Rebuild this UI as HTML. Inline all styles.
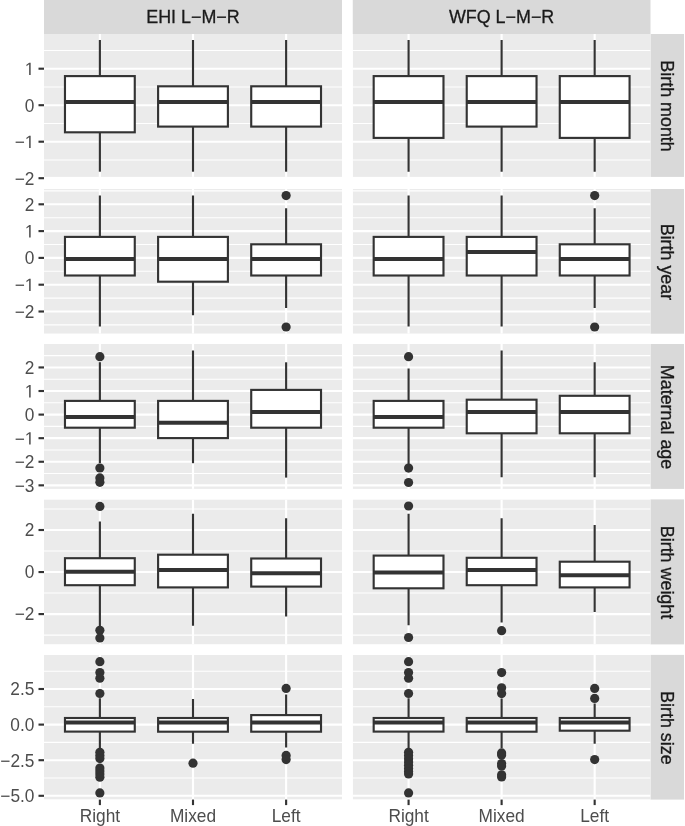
<!DOCTYPE html><html><head><meta charset="utf-8"><style>html,body{margin:0;padding:0;background:#fff;}body{width:685px;height:826px;overflow:hidden;}svg{display:block;font-family:"Liberation Sans",sans-serif;will-change:transform;}</style></head><body>
<svg width="685" height="826" viewBox="0 0 685 826">
<rect x="0" y="0" width="685" height="826" fill="#fff"/>
<rect x="44" y="0" width="298" height="34" fill="#D9D9D9"/>
<text x="193" y="23.1" font-size="17.9" fill="#1A1A1A" text-anchor="middle" stroke="#1A1A1A" stroke-width="0.3">EHI L−M−R</text>
<rect x="352.75" y="0" width="297.75" height="34" fill="#D9D9D9"/>
<text x="501.62" y="23.1" font-size="17.9" fill="#1A1A1A" text-anchor="middle" stroke="#1A1A1A" stroke-width="0.3">WFQ L−M−R</text>
<rect x="650.5" y="34" width="33.5" height="142.9" fill="#D9D9D9"/>
<text transform="translate(661.1 106.05) rotate(90)" font-size="17.9" fill="#1A1A1A" text-anchor="middle" stroke="#1A1A1A" stroke-width="0.3">Birth month</text>
<clipPath id="c00"><rect x="44" y="34" width="298" height="142.9"/></clipPath>
<g clip-path="url(#c00)">
<rect x="44" y="34" width="298" height="142.9" fill="#EBEBEB"/>
<line x1="44" x2="342" y1="50.45" y2="50.45" stroke="#fff" stroke-width="1.07"/>
<line x1="44" x2="342" y1="86.95" y2="86.95" stroke="#fff" stroke-width="1.07"/>
<line x1="44" x2="342" y1="123.45" y2="123.45" stroke="#fff" stroke-width="1.07"/>
<line x1="44" x2="342" y1="159.95" y2="159.95" stroke="#fff" stroke-width="1.07"/>
<line x1="44" x2="342" y1="68.7" y2="68.7" stroke="#fff" stroke-width="2.13"/>
<line x1="44" x2="342" y1="105.2" y2="105.2" stroke="#fff" stroke-width="2.13"/>
<line x1="44" x2="342" y1="141.7" y2="141.7" stroke="#fff" stroke-width="2.13"/>
<line x1="44" x2="342" y1="178.2" y2="178.2" stroke="#fff" stroke-width="2.13"/>
<line x1="99.88" x2="99.88" y1="34" y2="176.9" stroke="#fff" stroke-width="2.13"/>
<line x1="193" x2="193" y1="34" y2="176.9" stroke="#fff" stroke-width="2.13"/>
<line x1="286.12" x2="286.12" y1="34" y2="176.9" stroke="#fff" stroke-width="2.13"/>
<line x1="99.88" x2="99.88" y1="40" y2="76.1" stroke="#333333" stroke-width="2.13"/>
<line x1="99.88" x2="99.88" y1="132.3" y2="171.7" stroke="#333333" stroke-width="2.13"/>
<rect x="64.97" y="76.1" width="69.8" height="56.2" fill="#fff" stroke="#333333" stroke-width="2.13"/>
<line x1="64.97" x2="134.78" y1="101.9" y2="101.9" stroke="#333333" stroke-width="4"/>
<line x1="193" x2="193" y1="40" y2="86.3" stroke="#333333" stroke-width="2.13"/>
<line x1="193" x2="193" y1="126.6" y2="171.7" stroke="#333333" stroke-width="2.13"/>
<rect x="158.1" y="86.3" width="69.8" height="40.3" fill="#fff" stroke="#333333" stroke-width="2.13"/>
<line x1="158.1" x2="227.9" y1="101.9" y2="101.9" stroke="#333333" stroke-width="4"/>
<line x1="286.12" x2="286.12" y1="40" y2="86.3" stroke="#333333" stroke-width="2.13"/>
<line x1="286.12" x2="286.12" y1="126.6" y2="171.7" stroke="#333333" stroke-width="2.13"/>
<rect x="251.22" y="86.3" width="69.8" height="40.3" fill="#fff" stroke="#333333" stroke-width="2.13"/>
<line x1="251.22" x2="321.02" y1="101.9" y2="101.9" stroke="#333333" stroke-width="4"/>
</g>
<clipPath id="c01"><rect x="352.75" y="34" width="297.75" height="142.9"/></clipPath>
<g clip-path="url(#c01)">
<rect x="352.75" y="34" width="297.75" height="142.9" fill="#EBEBEB"/>
<line x1="352.75" x2="650.5" y1="50.45" y2="50.45" stroke="#fff" stroke-width="1.07"/>
<line x1="352.75" x2="650.5" y1="86.95" y2="86.95" stroke="#fff" stroke-width="1.07"/>
<line x1="352.75" x2="650.5" y1="123.45" y2="123.45" stroke="#fff" stroke-width="1.07"/>
<line x1="352.75" x2="650.5" y1="159.95" y2="159.95" stroke="#fff" stroke-width="1.07"/>
<line x1="352.75" x2="650.5" y1="68.7" y2="68.7" stroke="#fff" stroke-width="2.13"/>
<line x1="352.75" x2="650.5" y1="105.2" y2="105.2" stroke="#fff" stroke-width="2.13"/>
<line x1="352.75" x2="650.5" y1="141.7" y2="141.7" stroke="#fff" stroke-width="2.13"/>
<line x1="352.75" x2="650.5" y1="178.2" y2="178.2" stroke="#fff" stroke-width="2.13"/>
<line x1="408.58" x2="408.58" y1="34" y2="176.9" stroke="#fff" stroke-width="2.13"/>
<line x1="501.62" x2="501.62" y1="34" y2="176.9" stroke="#fff" stroke-width="2.13"/>
<line x1="594.67" x2="594.67" y1="34" y2="176.9" stroke="#fff" stroke-width="2.13"/>
<line x1="408.58" x2="408.58" y1="40" y2="76.1" stroke="#333333" stroke-width="2.13"/>
<line x1="408.58" x2="408.58" y1="137.9" y2="171.7" stroke="#333333" stroke-width="2.13"/>
<rect x="373.68" y="76.1" width="69.8" height="61.8" fill="#fff" stroke="#333333" stroke-width="2.13"/>
<line x1="373.68" x2="443.48" y1="101.9" y2="101.9" stroke="#333333" stroke-width="4"/>
<line x1="501.62" x2="501.62" y1="40" y2="76.1" stroke="#333333" stroke-width="2.13"/>
<line x1="501.62" x2="501.62" y1="126.6" y2="171.7" stroke="#333333" stroke-width="2.13"/>
<rect x="466.73" y="76.1" width="69.8" height="50.5" fill="#fff" stroke="#333333" stroke-width="2.13"/>
<line x1="466.73" x2="536.52" y1="101.9" y2="101.9" stroke="#333333" stroke-width="4"/>
<line x1="594.67" x2="594.67" y1="40" y2="76.1" stroke="#333333" stroke-width="2.13"/>
<line x1="594.67" x2="594.67" y1="137.9" y2="171.7" stroke="#333333" stroke-width="2.13"/>
<rect x="559.77" y="76.1" width="69.8" height="61.8" fill="#fff" stroke="#333333" stroke-width="2.13"/>
<line x1="559.77" x2="629.57" y1="101.9" y2="101.9" stroke="#333333" stroke-width="4"/>
</g>
<line x1="38.5" x2="44" y1="68.7" y2="68.7" stroke="#333333" stroke-width="2.13"/>
<path transform="translate(24.78 75.1) scale(0.00845 -0.00879)" fill="#4D4D4D" d="M515 0L515 1237L197 1010L197 1180L530 1409L696 1409L696 0Z"/>
<line x1="38.5" x2="44" y1="105.2" y2="105.2" stroke="#333333" stroke-width="2.13"/>
<text transform="translate(34.4 111.6) scale(1 1.04)" font-size="17.3" fill="#4D4D4D" text-anchor="end">0</text>
<line x1="38.5" x2="44" y1="141.7" y2="141.7" stroke="#333333" stroke-width="2.13"/>
<path transform="translate(24.78 148.1) scale(0.00845 -0.00879)" fill="#4D4D4D" d="M515 0L515 1237L197 1010L197 1180L530 1409L696 1409L696 0Z"/>
<text transform="translate(24.78 148.1) scale(1 1.04)" font-size="17.3" fill="#4D4D4D" text-anchor="end">−</text>
<line x1="38.5" x2="44" y1="178.2" y2="178.2" stroke="#333333" stroke-width="2.13"/>
<text transform="translate(34.4 184.6) scale(1 1.04)" font-size="17.3" fill="#4D4D4D" text-anchor="end">−2</text>
<rect x="650.5" y="189" width="33.5" height="144.7" fill="#D9D9D9"/>
<text transform="translate(661.1 261.95) rotate(90)" font-size="17.9" fill="#1A1A1A" text-anchor="middle" stroke="#1A1A1A" stroke-width="0.3">Birth year</text>
<clipPath id="c10"><rect x="44" y="189" width="298" height="144.7"/></clipPath>
<g clip-path="url(#c10)">
<rect x="44" y="189" width="298" height="144.7" fill="#EBEBEB"/>
<line x1="44" x2="342" y1="190.9" y2="190.9" stroke="#fff" stroke-width="1.07"/>
<line x1="44" x2="342" y1="217.7" y2="217.7" stroke="#fff" stroke-width="1.07"/>
<line x1="44" x2="342" y1="244.5" y2="244.5" stroke="#fff" stroke-width="1.07"/>
<line x1="44" x2="342" y1="271.3" y2="271.3" stroke="#fff" stroke-width="1.07"/>
<line x1="44" x2="342" y1="298.1" y2="298.1" stroke="#fff" stroke-width="1.07"/>
<line x1="44" x2="342" y1="324.9" y2="324.9" stroke="#fff" stroke-width="1.07"/>
<line x1="44" x2="342" y1="204.3" y2="204.3" stroke="#fff" stroke-width="2.13"/>
<line x1="44" x2="342" y1="231.1" y2="231.1" stroke="#fff" stroke-width="2.13"/>
<line x1="44" x2="342" y1="257.9" y2="257.9" stroke="#fff" stroke-width="2.13"/>
<line x1="44" x2="342" y1="284.7" y2="284.7" stroke="#fff" stroke-width="2.13"/>
<line x1="44" x2="342" y1="311.5" y2="311.5" stroke="#fff" stroke-width="2.13"/>
<line x1="99.88" x2="99.88" y1="189" y2="333.7" stroke="#fff" stroke-width="2.13"/>
<line x1="193" x2="193" y1="189" y2="333.7" stroke="#fff" stroke-width="2.13"/>
<line x1="286.12" x2="286.12" y1="189" y2="333.7" stroke="#fff" stroke-width="2.13"/>
<line x1="99.88" x2="99.88" y1="195.5" y2="236.9" stroke="#333333" stroke-width="2.13"/>
<line x1="99.88" x2="99.88" y1="275.5" y2="326.6" stroke="#333333" stroke-width="2.13"/>
<rect x="64.97" y="236.9" width="69.8" height="38.6" fill="#fff" stroke="#333333" stroke-width="2.13"/>
<line x1="64.97" x2="134.78" y1="259" y2="259" stroke="#333333" stroke-width="4"/>
<line x1="193" x2="193" y1="195.5" y2="236.9" stroke="#333333" stroke-width="2.13"/>
<line x1="193" x2="193" y1="281.7" y2="315.3" stroke="#333333" stroke-width="2.13"/>
<rect x="158.1" y="236.9" width="69.8" height="44.8" fill="#fff" stroke="#333333" stroke-width="2.13"/>
<line x1="158.1" x2="227.9" y1="259" y2="259" stroke="#333333" stroke-width="4"/>
<line x1="286.12" x2="286.12" y1="208.2" y2="244.3" stroke="#333333" stroke-width="2.13"/>
<line x1="286.12" x2="286.12" y1="275.5" y2="308" stroke="#333333" stroke-width="2.13"/>
<rect x="251.22" y="244.3" width="69.8" height="31.2" fill="#fff" stroke="#333333" stroke-width="2.13"/>
<line x1="251.22" x2="321.02" y1="259" y2="259" stroke="#333333" stroke-width="4"/>
<circle cx="286.12" cy="195.6" r="4.6" fill="#333333"/>
<circle cx="286.12" cy="327" r="4.6" fill="#333333"/>
</g>
<clipPath id="c11"><rect x="352.75" y="189" width="297.75" height="144.7"/></clipPath>
<g clip-path="url(#c11)">
<rect x="352.75" y="189" width="297.75" height="144.7" fill="#EBEBEB"/>
<line x1="352.75" x2="650.5" y1="190.9" y2="190.9" stroke="#fff" stroke-width="1.07"/>
<line x1="352.75" x2="650.5" y1="217.7" y2="217.7" stroke="#fff" stroke-width="1.07"/>
<line x1="352.75" x2="650.5" y1="244.5" y2="244.5" stroke="#fff" stroke-width="1.07"/>
<line x1="352.75" x2="650.5" y1="271.3" y2="271.3" stroke="#fff" stroke-width="1.07"/>
<line x1="352.75" x2="650.5" y1="298.1" y2="298.1" stroke="#fff" stroke-width="1.07"/>
<line x1="352.75" x2="650.5" y1="324.9" y2="324.9" stroke="#fff" stroke-width="1.07"/>
<line x1="352.75" x2="650.5" y1="204.3" y2="204.3" stroke="#fff" stroke-width="2.13"/>
<line x1="352.75" x2="650.5" y1="231.1" y2="231.1" stroke="#fff" stroke-width="2.13"/>
<line x1="352.75" x2="650.5" y1="257.9" y2="257.9" stroke="#fff" stroke-width="2.13"/>
<line x1="352.75" x2="650.5" y1="284.7" y2="284.7" stroke="#fff" stroke-width="2.13"/>
<line x1="352.75" x2="650.5" y1="311.5" y2="311.5" stroke="#fff" stroke-width="2.13"/>
<line x1="408.58" x2="408.58" y1="189" y2="333.7" stroke="#fff" stroke-width="2.13"/>
<line x1="501.62" x2="501.62" y1="189" y2="333.7" stroke="#fff" stroke-width="2.13"/>
<line x1="594.67" x2="594.67" y1="189" y2="333.7" stroke="#fff" stroke-width="2.13"/>
<line x1="408.58" x2="408.58" y1="195.5" y2="236.9" stroke="#333333" stroke-width="2.13"/>
<line x1="408.58" x2="408.58" y1="275.5" y2="326.6" stroke="#333333" stroke-width="2.13"/>
<rect x="373.68" y="236.9" width="69.8" height="38.6" fill="#fff" stroke="#333333" stroke-width="2.13"/>
<line x1="373.68" x2="443.48" y1="259" y2="259" stroke="#333333" stroke-width="4"/>
<line x1="501.62" x2="501.62" y1="195.5" y2="236.9" stroke="#333333" stroke-width="2.13"/>
<line x1="501.62" x2="501.62" y1="275.5" y2="326.6" stroke="#333333" stroke-width="2.13"/>
<rect x="466.73" y="236.9" width="69.8" height="38.6" fill="#fff" stroke="#333333" stroke-width="2.13"/>
<line x1="466.73" x2="536.52" y1="252.1" y2="252.1" stroke="#333333" stroke-width="4"/>
<line x1="594.67" x2="594.67" y1="208.2" y2="244.3" stroke="#333333" stroke-width="2.13"/>
<line x1="594.67" x2="594.67" y1="275.5" y2="308" stroke="#333333" stroke-width="2.13"/>
<rect x="559.77" y="244.3" width="69.8" height="31.2" fill="#fff" stroke="#333333" stroke-width="2.13"/>
<line x1="559.77" x2="629.57" y1="259" y2="259" stroke="#333333" stroke-width="4"/>
<circle cx="594.67" cy="195.6" r="4.6" fill="#333333"/>
<circle cx="594.67" cy="327" r="4.6" fill="#333333"/>
</g>
<line x1="38.5" x2="44" y1="204.3" y2="204.3" stroke="#333333" stroke-width="2.13"/>
<text transform="translate(34.4 210.7) scale(1 1.04)" font-size="17.3" fill="#4D4D4D" text-anchor="end">2</text>
<line x1="38.5" x2="44" y1="231.1" y2="231.1" stroke="#333333" stroke-width="2.13"/>
<path transform="translate(24.78 237.5) scale(0.00845 -0.00879)" fill="#4D4D4D" d="M515 0L515 1237L197 1010L197 1180L530 1409L696 1409L696 0Z"/>
<line x1="38.5" x2="44" y1="257.9" y2="257.9" stroke="#333333" stroke-width="2.13"/>
<text transform="translate(34.4 264.3) scale(1 1.04)" font-size="17.3" fill="#4D4D4D" text-anchor="end">0</text>
<line x1="38.5" x2="44" y1="284.7" y2="284.7" stroke="#333333" stroke-width="2.13"/>
<path transform="translate(24.78 291.1) scale(0.00845 -0.00879)" fill="#4D4D4D" d="M515 0L515 1237L197 1010L197 1180L530 1409L696 1409L696 0Z"/>
<text transform="translate(24.78 291.1) scale(1 1.04)" font-size="17.3" fill="#4D4D4D" text-anchor="end">−</text>
<line x1="38.5" x2="44" y1="311.5" y2="311.5" stroke="#333333" stroke-width="2.13"/>
<text transform="translate(34.4 317.9) scale(1 1.04)" font-size="17.3" fill="#4D4D4D" text-anchor="end">−2</text>
<rect x="650.5" y="344" width="33.5" height="144.9" fill="#D9D9D9"/>
<text transform="translate(661.1 417.05) rotate(90)" font-size="17.9" fill="#1A1A1A" text-anchor="middle" stroke="#1A1A1A" stroke-width="0.3">Maternal age</text>
<clipPath id="c20"><rect x="44" y="344" width="298" height="144.9"/></clipPath>
<g clip-path="url(#c20)">
<rect x="44" y="344" width="298" height="144.9" fill="#EBEBEB"/>
<line x1="44" x2="342" y1="355.65" y2="355.65" stroke="#fff" stroke-width="1.07"/>
<line x1="44" x2="342" y1="379.23" y2="379.23" stroke="#fff" stroke-width="1.07"/>
<line x1="44" x2="342" y1="402.81" y2="402.81" stroke="#fff" stroke-width="1.07"/>
<line x1="44" x2="342" y1="426.39" y2="426.39" stroke="#fff" stroke-width="1.07"/>
<line x1="44" x2="342" y1="449.97" y2="449.97" stroke="#fff" stroke-width="1.07"/>
<line x1="44" x2="342" y1="473.55" y2="473.55" stroke="#fff" stroke-width="1.07"/>
<line x1="44" x2="342" y1="367.44" y2="367.44" stroke="#fff" stroke-width="2.13"/>
<line x1="44" x2="342" y1="391.02" y2="391.02" stroke="#fff" stroke-width="2.13"/>
<line x1="44" x2="342" y1="414.6" y2="414.6" stroke="#fff" stroke-width="2.13"/>
<line x1="44" x2="342" y1="438.18" y2="438.18" stroke="#fff" stroke-width="2.13"/>
<line x1="44" x2="342" y1="461.76" y2="461.76" stroke="#fff" stroke-width="2.13"/>
<line x1="44" x2="342" y1="485.34" y2="485.34" stroke="#fff" stroke-width="2.13"/>
<line x1="99.88" x2="99.88" y1="344" y2="488.9" stroke="#fff" stroke-width="2.13"/>
<line x1="193" x2="193" y1="344" y2="488.9" stroke="#fff" stroke-width="2.13"/>
<line x1="286.12" x2="286.12" y1="344" y2="488.9" stroke="#fff" stroke-width="2.13"/>
<line x1="99.88" x2="99.88" y1="362.2" y2="400.9" stroke="#333333" stroke-width="2.13"/>
<line x1="99.88" x2="99.88" y1="427.7" y2="463.2" stroke="#333333" stroke-width="2.13"/>
<rect x="64.97" y="400.9" width="69.8" height="26.8" fill="#fff" stroke="#333333" stroke-width="2.13"/>
<line x1="64.97" x2="134.78" y1="417" y2="417" stroke="#333333" stroke-width="4"/>
<circle cx="99.88" cy="356.7" r="4.6" fill="#333333"/>
<circle cx="99.88" cy="468" r="4.6" fill="#333333"/>
<circle cx="99.88" cy="477.9" r="4.6" fill="#333333"/>
<circle cx="99.88" cy="482.3" r="4.6" fill="#333333"/>
<line x1="193" x2="193" y1="350.5" y2="400.9" stroke="#333333" stroke-width="2.13"/>
<line x1="193" x2="193" y1="438.1" y2="463.2" stroke="#333333" stroke-width="2.13"/>
<rect x="158.1" y="400.9" width="69.8" height="37.2" fill="#fff" stroke="#333333" stroke-width="2.13"/>
<line x1="158.1" x2="227.9" y1="422.8" y2="422.8" stroke="#333333" stroke-width="4"/>
<line x1="286.12" x2="286.12" y1="362.3" y2="389.9" stroke="#333333" stroke-width="2.13"/>
<line x1="286.12" x2="286.12" y1="427.7" y2="477.6" stroke="#333333" stroke-width="2.13"/>
<rect x="251.22" y="389.9" width="69.8" height="37.8" fill="#fff" stroke="#333333" stroke-width="2.13"/>
<line x1="251.22" x2="321.02" y1="411.9" y2="411.9" stroke="#333333" stroke-width="4"/>
</g>
<clipPath id="c21"><rect x="352.75" y="344" width="297.75" height="144.9"/></clipPath>
<g clip-path="url(#c21)">
<rect x="352.75" y="344" width="297.75" height="144.9" fill="#EBEBEB"/>
<line x1="352.75" x2="650.5" y1="355.65" y2="355.65" stroke="#fff" stroke-width="1.07"/>
<line x1="352.75" x2="650.5" y1="379.23" y2="379.23" stroke="#fff" stroke-width="1.07"/>
<line x1="352.75" x2="650.5" y1="402.81" y2="402.81" stroke="#fff" stroke-width="1.07"/>
<line x1="352.75" x2="650.5" y1="426.39" y2="426.39" stroke="#fff" stroke-width="1.07"/>
<line x1="352.75" x2="650.5" y1="449.97" y2="449.97" stroke="#fff" stroke-width="1.07"/>
<line x1="352.75" x2="650.5" y1="473.55" y2="473.55" stroke="#fff" stroke-width="1.07"/>
<line x1="352.75" x2="650.5" y1="367.44" y2="367.44" stroke="#fff" stroke-width="2.13"/>
<line x1="352.75" x2="650.5" y1="391.02" y2="391.02" stroke="#fff" stroke-width="2.13"/>
<line x1="352.75" x2="650.5" y1="414.6" y2="414.6" stroke="#fff" stroke-width="2.13"/>
<line x1="352.75" x2="650.5" y1="438.18" y2="438.18" stroke="#fff" stroke-width="2.13"/>
<line x1="352.75" x2="650.5" y1="461.76" y2="461.76" stroke="#fff" stroke-width="2.13"/>
<line x1="352.75" x2="650.5" y1="485.34" y2="485.34" stroke="#fff" stroke-width="2.13"/>
<line x1="408.58" x2="408.58" y1="344" y2="488.9" stroke="#fff" stroke-width="2.13"/>
<line x1="501.62" x2="501.62" y1="344" y2="488.9" stroke="#fff" stroke-width="2.13"/>
<line x1="594.67" x2="594.67" y1="344" y2="488.9" stroke="#fff" stroke-width="2.13"/>
<line x1="408.58" x2="408.58" y1="368.4" y2="400.9" stroke="#333333" stroke-width="2.13"/>
<line x1="408.58" x2="408.58" y1="427.7" y2="464.2" stroke="#333333" stroke-width="2.13"/>
<rect x="373.68" y="400.9" width="69.8" height="26.8" fill="#fff" stroke="#333333" stroke-width="2.13"/>
<line x1="373.68" x2="443.48" y1="417" y2="417" stroke="#333333" stroke-width="4"/>
<circle cx="408.58" cy="356.7" r="4.6" fill="#333333"/>
<circle cx="408.58" cy="468.1" r="4.6" fill="#333333"/>
<circle cx="408.58" cy="482.5" r="4.6" fill="#333333"/>
<line x1="501.62" x2="501.62" y1="350.5" y2="399.7" stroke="#333333" stroke-width="2.13"/>
<line x1="501.62" x2="501.62" y1="433.3" y2="477.2" stroke="#333333" stroke-width="2.13"/>
<rect x="466.73" y="399.7" width="69.8" height="33.6" fill="#fff" stroke="#333333" stroke-width="2.13"/>
<line x1="466.73" x2="536.52" y1="411.9" y2="411.9" stroke="#333333" stroke-width="4"/>
<line x1="594.67" x2="594.67" y1="362.3" y2="395.8" stroke="#333333" stroke-width="2.13"/>
<line x1="594.67" x2="594.67" y1="433.3" y2="477.2" stroke="#333333" stroke-width="2.13"/>
<rect x="559.77" y="395.8" width="69.8" height="37.5" fill="#fff" stroke="#333333" stroke-width="2.13"/>
<line x1="559.77" x2="629.57" y1="411.9" y2="411.9" stroke="#333333" stroke-width="4"/>
</g>
<line x1="38.5" x2="44" y1="367.44" y2="367.44" stroke="#333333" stroke-width="2.13"/>
<text transform="translate(34.4 373.84) scale(1 1.04)" font-size="17.3" fill="#4D4D4D" text-anchor="end">2</text>
<line x1="38.5" x2="44" y1="391.02" y2="391.02" stroke="#333333" stroke-width="2.13"/>
<path transform="translate(24.78 397.42) scale(0.00845 -0.00879)" fill="#4D4D4D" d="M515 0L515 1237L197 1010L197 1180L530 1409L696 1409L696 0Z"/>
<line x1="38.5" x2="44" y1="414.6" y2="414.6" stroke="#333333" stroke-width="2.13"/>
<text transform="translate(34.4 421) scale(1 1.04)" font-size="17.3" fill="#4D4D4D" text-anchor="end">0</text>
<line x1="38.5" x2="44" y1="438.18" y2="438.18" stroke="#333333" stroke-width="2.13"/>
<path transform="translate(24.78 444.58) scale(0.00845 -0.00879)" fill="#4D4D4D" d="M515 0L515 1237L197 1010L197 1180L530 1409L696 1409L696 0Z"/>
<text transform="translate(24.78 444.58) scale(1 1.04)" font-size="17.3" fill="#4D4D4D" text-anchor="end">−</text>
<line x1="38.5" x2="44" y1="461.76" y2="461.76" stroke="#333333" stroke-width="2.13"/>
<text transform="translate(34.4 468.16) scale(1 1.04)" font-size="17.3" fill="#4D4D4D" text-anchor="end">−2</text>
<line x1="38.5" x2="44" y1="485.34" y2="485.34" stroke="#333333" stroke-width="2.13"/>
<text transform="translate(34.4 491.74) scale(1 1.04)" font-size="17.3" fill="#4D4D4D" text-anchor="end">−3</text>
<rect x="650.5" y="499.4" width="33.5" height="145" fill="#D9D9D9"/>
<text transform="translate(661.1 572.5) rotate(90)" font-size="17.9" fill="#1A1A1A" text-anchor="middle" stroke="#1A1A1A" stroke-width="0.3">Birth weight</text>
<clipPath id="c30"><rect x="44" y="499.4" width="298" height="145"/></clipPath>
<g clip-path="url(#c30)">
<rect x="44" y="499.4" width="298" height="145" fill="#EBEBEB"/>
<line x1="44" x2="342" y1="508.99" y2="508.99" stroke="#fff" stroke-width="1.07"/>
<line x1="44" x2="342" y1="551.03" y2="551.03" stroke="#fff" stroke-width="1.07"/>
<line x1="44" x2="342" y1="593.07" y2="593.07" stroke="#fff" stroke-width="1.07"/>
<line x1="44" x2="342" y1="635.11" y2="635.11" stroke="#fff" stroke-width="1.07"/>
<line x1="44" x2="342" y1="530.01" y2="530.01" stroke="#fff" stroke-width="2.13"/>
<line x1="44" x2="342" y1="572.05" y2="572.05" stroke="#fff" stroke-width="2.13"/>
<line x1="44" x2="342" y1="614.09" y2="614.09" stroke="#fff" stroke-width="2.13"/>
<line x1="99.88" x2="99.88" y1="499.4" y2="644.4" stroke="#fff" stroke-width="2.13"/>
<line x1="193" x2="193" y1="499.4" y2="644.4" stroke="#fff" stroke-width="2.13"/>
<line x1="286.12" x2="286.12" y1="499.4" y2="644.4" stroke="#fff" stroke-width="2.13"/>
<line x1="99.88" x2="99.88" y1="521.6" y2="558.2" stroke="#333333" stroke-width="2.13"/>
<line x1="99.88" x2="99.88" y1="585.2" y2="627" stroke="#333333" stroke-width="2.13"/>
<rect x="64.97" y="558.2" width="69.8" height="27" fill="#fff" stroke="#333333" stroke-width="2.13"/>
<line x1="64.97" x2="134.78" y1="571.7" y2="571.7" stroke="#333333" stroke-width="4"/>
<circle cx="99.88" cy="506.4" r="4.6" fill="#333333"/>
<circle cx="99.88" cy="630.3" r="4.6" fill="#333333"/>
<circle cx="99.88" cy="637.9" r="4.6" fill="#333333"/>
<line x1="193" x2="193" y1="513.8" y2="554.7" stroke="#333333" stroke-width="2.13"/>
<line x1="193" x2="193" y1="587.4" y2="625.8" stroke="#333333" stroke-width="2.13"/>
<rect x="158.1" y="554.7" width="69.8" height="32.7" fill="#fff" stroke="#333333" stroke-width="2.13"/>
<line x1="158.1" x2="227.9" y1="569.9" y2="569.9" stroke="#333333" stroke-width="4"/>
<line x1="286.12" x2="286.12" y1="518.2" y2="558.5" stroke="#333333" stroke-width="2.13"/>
<line x1="286.12" x2="286.12" y1="586.6" y2="616.6" stroke="#333333" stroke-width="2.13"/>
<rect x="251.22" y="558.5" width="69.8" height="28.1" fill="#fff" stroke="#333333" stroke-width="2.13"/>
<line x1="251.22" x2="321.02" y1="573.2" y2="573.2" stroke="#333333" stroke-width="4"/>
</g>
<clipPath id="c31"><rect x="352.75" y="499.4" width="297.75" height="145"/></clipPath>
<g clip-path="url(#c31)">
<rect x="352.75" y="499.4" width="297.75" height="145" fill="#EBEBEB"/>
<line x1="352.75" x2="650.5" y1="508.99" y2="508.99" stroke="#fff" stroke-width="1.07"/>
<line x1="352.75" x2="650.5" y1="551.03" y2="551.03" stroke="#fff" stroke-width="1.07"/>
<line x1="352.75" x2="650.5" y1="593.07" y2="593.07" stroke="#fff" stroke-width="1.07"/>
<line x1="352.75" x2="650.5" y1="635.11" y2="635.11" stroke="#fff" stroke-width="1.07"/>
<line x1="352.75" x2="650.5" y1="530.01" y2="530.01" stroke="#fff" stroke-width="2.13"/>
<line x1="352.75" x2="650.5" y1="572.05" y2="572.05" stroke="#fff" stroke-width="2.13"/>
<line x1="352.75" x2="650.5" y1="614.09" y2="614.09" stroke="#fff" stroke-width="2.13"/>
<line x1="408.58" x2="408.58" y1="499.4" y2="644.4" stroke="#fff" stroke-width="2.13"/>
<line x1="501.62" x2="501.62" y1="499.4" y2="644.4" stroke="#fff" stroke-width="2.13"/>
<line x1="594.67" x2="594.67" y1="499.4" y2="644.4" stroke="#fff" stroke-width="2.13"/>
<line x1="408.58" x2="408.58" y1="513.8" y2="555.6" stroke="#333333" stroke-width="2.13"/>
<line x1="408.58" x2="408.58" y1="588.3" y2="625.3" stroke="#333333" stroke-width="2.13"/>
<rect x="373.68" y="555.6" width="69.8" height="32.7" fill="#fff" stroke="#333333" stroke-width="2.13"/>
<line x1="373.68" x2="443.48" y1="572.6" y2="572.6" stroke="#333333" stroke-width="4"/>
<circle cx="408.58" cy="506" r="4.6" fill="#333333"/>
<circle cx="408.58" cy="637.5" r="4.6" fill="#333333"/>
<line x1="501.62" x2="501.62" y1="518.2" y2="557.8" stroke="#333333" stroke-width="2.13"/>
<line x1="501.62" x2="501.62" y1="585.2" y2="622.6" stroke="#333333" stroke-width="2.13"/>
<rect x="466.73" y="557.8" width="69.8" height="27.4" fill="#fff" stroke="#333333" stroke-width="2.13"/>
<line x1="466.73" x2="536.52" y1="569.9" y2="569.9" stroke="#333333" stroke-width="4"/>
<circle cx="501.62" cy="630.7" r="4.6" fill="#333333"/>
<line x1="594.67" x2="594.67" y1="525.1" y2="561.7" stroke="#333333" stroke-width="2.13"/>
<line x1="594.67" x2="594.67" y1="587.4" y2="612.1" stroke="#333333" stroke-width="2.13"/>
<rect x="559.77" y="561.7" width="69.8" height="25.7" fill="#fff" stroke="#333333" stroke-width="2.13"/>
<line x1="559.77" x2="629.57" y1="575.2" y2="575.2" stroke="#333333" stroke-width="4"/>
</g>
<line x1="38.5" x2="44" y1="530.01" y2="530.01" stroke="#333333" stroke-width="2.13"/>
<text transform="translate(34.4 536.41) scale(1 1.04)" font-size="17.3" fill="#4D4D4D" text-anchor="end">2</text>
<line x1="38.5" x2="44" y1="572.05" y2="572.05" stroke="#333333" stroke-width="2.13"/>
<text transform="translate(34.4 578.45) scale(1 1.04)" font-size="17.3" fill="#4D4D4D" text-anchor="end">0</text>
<line x1="38.5" x2="44" y1="614.09" y2="614.09" stroke="#333333" stroke-width="2.13"/>
<text transform="translate(34.4 620.49) scale(1 1.04)" font-size="17.3" fill="#4D4D4D" text-anchor="end">−2</text>
<rect x="650.5" y="654.9" width="33.5" height="144.7" fill="#D9D9D9"/>
<text transform="translate(661.1 727.85) rotate(90)" font-size="17.9" fill="#1A1A1A" text-anchor="middle" stroke="#1A1A1A" stroke-width="0.3">Birth size</text>
<clipPath id="c40"><rect x="44" y="654.9" width="298" height="144.7"/></clipPath>
<g clip-path="url(#c40)">
<rect x="44" y="654.9" width="298" height="144.7" fill="#EBEBEB"/>
<line x1="44" x2="342" y1="671.2" y2="671.2" stroke="#fff" stroke-width="1.07"/>
<line x1="44" x2="342" y1="706.8" y2="706.8" stroke="#fff" stroke-width="1.07"/>
<line x1="44" x2="342" y1="742.4" y2="742.4" stroke="#fff" stroke-width="1.07"/>
<line x1="44" x2="342" y1="778" y2="778" stroke="#fff" stroke-width="1.07"/>
<line x1="44" x2="342" y1="689" y2="689" stroke="#fff" stroke-width="2.13"/>
<line x1="44" x2="342" y1="724.6" y2="724.6" stroke="#fff" stroke-width="2.13"/>
<line x1="44" x2="342" y1="760.2" y2="760.2" stroke="#fff" stroke-width="2.13"/>
<line x1="44" x2="342" y1="795.8" y2="795.8" stroke="#fff" stroke-width="2.13"/>
<line x1="99.88" x2="99.88" y1="654.9" y2="799.6" stroke="#fff" stroke-width="2.13"/>
<line x1="193" x2="193" y1="654.9" y2="799.6" stroke="#fff" stroke-width="2.13"/>
<line x1="286.12" x2="286.12" y1="654.9" y2="799.6" stroke="#fff" stroke-width="2.13"/>
<line x1="99.88" x2="99.88" y1="698.2" y2="718" stroke="#333333" stroke-width="2.13"/>
<line x1="99.88" x2="99.88" y1="731.6" y2="748" stroke="#333333" stroke-width="2.13"/>
<rect x="64.97" y="718" width="69.8" height="13.6" fill="#fff" stroke="#333333" stroke-width="2.13"/>
<line x1="64.97" x2="134.78" y1="722.6" y2="722.6" stroke="#333333" stroke-width="4"/>
<circle cx="99.88" cy="661.7" r="4.6" fill="#333333"/>
<circle cx="99.88" cy="672.6" r="4.6" fill="#333333"/>
<circle cx="99.88" cy="678.2" r="4.6" fill="#333333"/>
<circle cx="99.88" cy="693.5" r="4.6" fill="#333333"/>
<circle cx="99.88" cy="752.3" r="4.6" fill="#333333"/>
<circle cx="99.88" cy="755.5" r="4.6" fill="#333333"/>
<circle cx="99.88" cy="758.6" r="4.6" fill="#333333"/>
<circle cx="99.88" cy="768" r="4.6" fill="#333333"/>
<circle cx="99.88" cy="771" r="4.6" fill="#333333"/>
<circle cx="99.88" cy="774" r="4.6" fill="#333333"/>
<circle cx="99.88" cy="777.2" r="4.6" fill="#333333"/>
<circle cx="99.88" cy="792.9" r="4.6" fill="#333333"/>
<line x1="193" x2="193" y1="698.9" y2="718" stroke="#333333" stroke-width="2.13"/>
<line x1="193" x2="193" y1="731.7" y2="743.8" stroke="#333333" stroke-width="2.13"/>
<rect x="158.1" y="718" width="69.8" height="13.7" fill="#fff" stroke="#333333" stroke-width="2.13"/>
<line x1="158.1" x2="227.9" y1="722.6" y2="722.6" stroke="#333333" stroke-width="4"/>
<circle cx="193" cy="763.2" r="4.6" fill="#333333"/>
<line x1="286.12" x2="286.12" y1="694.4" y2="715.1" stroke="#333333" stroke-width="2.13"/>
<line x1="286.12" x2="286.12" y1="731.7" y2="747.5" stroke="#333333" stroke-width="2.13"/>
<rect x="251.22" y="715.1" width="69.8" height="16.6" fill="#fff" stroke="#333333" stroke-width="2.13"/>
<line x1="251.22" x2="321.02" y1="722.6" y2="722.6" stroke="#333333" stroke-width="4"/>
<circle cx="286.12" cy="688.4" r="4.6" fill="#333333"/>
<circle cx="286.12" cy="755.4" r="4.6" fill="#333333"/>
<circle cx="286.12" cy="759.6" r="4.6" fill="#333333"/>
</g>
<clipPath id="c41"><rect x="352.75" y="654.9" width="297.75" height="144.7"/></clipPath>
<g clip-path="url(#c41)">
<rect x="352.75" y="654.9" width="297.75" height="144.7" fill="#EBEBEB"/>
<line x1="352.75" x2="650.5" y1="671.2" y2="671.2" stroke="#fff" stroke-width="1.07"/>
<line x1="352.75" x2="650.5" y1="706.8" y2="706.8" stroke="#fff" stroke-width="1.07"/>
<line x1="352.75" x2="650.5" y1="742.4" y2="742.4" stroke="#fff" stroke-width="1.07"/>
<line x1="352.75" x2="650.5" y1="778" y2="778" stroke="#fff" stroke-width="1.07"/>
<line x1="352.75" x2="650.5" y1="689" y2="689" stroke="#fff" stroke-width="2.13"/>
<line x1="352.75" x2="650.5" y1="724.6" y2="724.6" stroke="#fff" stroke-width="2.13"/>
<line x1="352.75" x2="650.5" y1="760.2" y2="760.2" stroke="#fff" stroke-width="2.13"/>
<line x1="352.75" x2="650.5" y1="795.8" y2="795.8" stroke="#fff" stroke-width="2.13"/>
<line x1="408.58" x2="408.58" y1="654.9" y2="799.6" stroke="#fff" stroke-width="2.13"/>
<line x1="501.62" x2="501.62" y1="654.9" y2="799.6" stroke="#fff" stroke-width="2.13"/>
<line x1="594.67" x2="594.67" y1="654.9" y2="799.6" stroke="#fff" stroke-width="2.13"/>
<line x1="408.58" x2="408.58" y1="698.2" y2="718" stroke="#333333" stroke-width="2.13"/>
<line x1="408.58" x2="408.58" y1="731.6" y2="748" stroke="#333333" stroke-width="2.13"/>
<rect x="373.68" y="718" width="69.8" height="13.6" fill="#fff" stroke="#333333" stroke-width="2.13"/>
<line x1="373.68" x2="443.48" y1="722.6" y2="722.6" stroke="#333333" stroke-width="4"/>
<circle cx="408.58" cy="661.7" r="4.6" fill="#333333"/>
<circle cx="408.58" cy="672.6" r="4.6" fill="#333333"/>
<circle cx="408.58" cy="678.2" r="4.6" fill="#333333"/>
<circle cx="408.58" cy="693.5" r="4.6" fill="#333333"/>
<circle cx="408.58" cy="752.3" r="4.6" fill="#333333"/>
<circle cx="408.58" cy="755.5" r="4.6" fill="#333333"/>
<circle cx="408.58" cy="758.8" r="4.6" fill="#333333"/>
<circle cx="408.58" cy="762" r="4.6" fill="#333333"/>
<circle cx="408.58" cy="765.2" r="4.6" fill="#333333"/>
<circle cx="408.58" cy="768.5" r="4.6" fill="#333333"/>
<circle cx="408.58" cy="771.5" r="4.6" fill="#333333"/>
<circle cx="408.58" cy="773.9" r="4.6" fill="#333333"/>
<circle cx="408.58" cy="792.9" r="4.6" fill="#333333"/>
<line x1="501.62" x2="501.62" y1="698.4" y2="718" stroke="#333333" stroke-width="2.13"/>
<line x1="501.62" x2="501.62" y1="731.7" y2="748.3" stroke="#333333" stroke-width="2.13"/>
<rect x="466.73" y="718" width="69.8" height="13.7" fill="#fff" stroke="#333333" stroke-width="2.13"/>
<line x1="466.73" x2="536.52" y1="722.6" y2="722.6" stroke="#333333" stroke-width="4"/>
<circle cx="501.62" cy="672.6" r="4.6" fill="#333333"/>
<circle cx="501.62" cy="687.8" r="4.6" fill="#333333"/>
<circle cx="501.62" cy="693.6" r="4.6" fill="#333333"/>
<circle cx="501.62" cy="752.9" r="4.6" fill="#333333"/>
<circle cx="501.62" cy="755" r="4.6" fill="#333333"/>
<circle cx="501.62" cy="763.5" r="4.6" fill="#333333"/>
<circle cx="501.62" cy="766" r="4.6" fill="#333333"/>
<circle cx="501.62" cy="774.8" r="4.6" fill="#333333"/>
<circle cx="501.62" cy="777" r="4.6" fill="#333333"/>
<line x1="594.67" x2="594.67" y1="703.6" y2="718" stroke="#333333" stroke-width="2.13"/>
<line x1="594.67" x2="594.67" y1="730.7" y2="743.8" stroke="#333333" stroke-width="2.13"/>
<rect x="559.77" y="718" width="69.8" height="12.7" fill="#fff" stroke="#333333" stroke-width="2.13"/>
<line x1="559.77" x2="629.57" y1="722.6" y2="722.6" stroke="#333333" stroke-width="4"/>
<circle cx="594.67" cy="688.4" r="4.6" fill="#333333"/>
<circle cx="594.67" cy="698.4" r="4.6" fill="#333333"/>
<circle cx="594.67" cy="759.6" r="4.6" fill="#333333"/>
</g>
<line x1="38.5" x2="44" y1="689" y2="689" stroke="#333333" stroke-width="2.13"/>
<text transform="translate(34.4 695.4) scale(1 1.04)" font-size="17.3" fill="#4D4D4D" text-anchor="end">2.5</text>
<line x1="38.5" x2="44" y1="724.6" y2="724.6" stroke="#333333" stroke-width="2.13"/>
<text transform="translate(34.4 731) scale(1 1.04)" font-size="17.3" fill="#4D4D4D" text-anchor="end">0.0</text>
<line x1="38.5" x2="44" y1="760.2" y2="760.2" stroke="#333333" stroke-width="2.13"/>
<text transform="translate(34.4 766.6) scale(1 1.04)" font-size="17.3" fill="#4D4D4D" text-anchor="end">−2.5</text>
<line x1="38.5" x2="44" y1="795.8" y2="795.8" stroke="#333333" stroke-width="2.13"/>
<text transform="translate(34.4 802.2) scale(1 1.04)" font-size="17.3" fill="#4D4D4D" text-anchor="end">−5.0</text>
<line x1="99.88" x2="99.88" y1="799.6" y2="805.1" stroke="#333333" stroke-width="2.13"/>
<text transform="translate(99.88 821.8) scale(1 1.04)" font-size="17.3" fill="#4D4D4D" text-anchor="middle">Right</text>
<line x1="193" x2="193" y1="799.6" y2="805.1" stroke="#333333" stroke-width="2.13"/>
<text transform="translate(193 821.8) scale(1 1.04)" font-size="17.3" fill="#4D4D4D" text-anchor="middle">Mixed</text>
<line x1="286.12" x2="286.12" y1="799.6" y2="805.1" stroke="#333333" stroke-width="2.13"/>
<text transform="translate(286.12 821.8) scale(1 1.04)" font-size="17.3" fill="#4D4D4D" text-anchor="middle">Left</text>
<line x1="408.58" x2="408.58" y1="799.6" y2="805.1" stroke="#333333" stroke-width="2.13"/>
<text transform="translate(408.58 821.8) scale(1 1.04)" font-size="17.3" fill="#4D4D4D" text-anchor="middle">Right</text>
<line x1="501.62" x2="501.62" y1="799.6" y2="805.1" stroke="#333333" stroke-width="2.13"/>
<text transform="translate(501.62 821.8) scale(1 1.04)" font-size="17.3" fill="#4D4D4D" text-anchor="middle">Mixed</text>
<line x1="594.67" x2="594.67" y1="799.6" y2="805.1" stroke="#333333" stroke-width="2.13"/>
<text transform="translate(594.67 821.8) scale(1 1.04)" font-size="17.3" fill="#4D4D4D" text-anchor="middle">Left</text>
</svg></body></html>
